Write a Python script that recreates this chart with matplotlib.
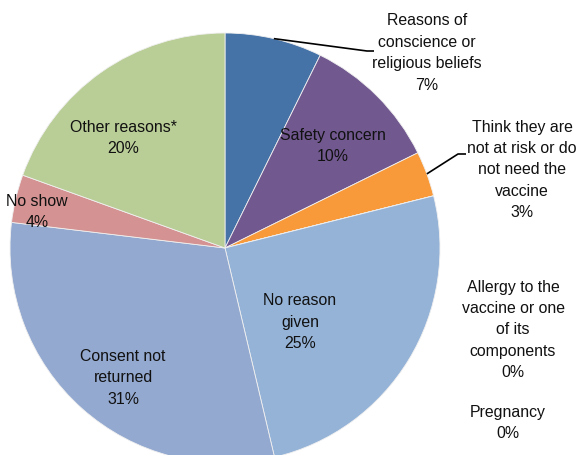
import numpy as np
import matplotlib
matplotlib.use("Agg")
import matplotlib.pyplot as plt

plt.rcParams['font.family'] = ['Liberation Sans', 'DejaVu Sans']

categories = [
    "Reasons of\nconscience or\nreligious beliefs",
    "Safety concern",
    "Think they are\nnot at risk or do\nnot need the\nvaccine",
    "Allergy to the\nvaccine or one\nof its\ncomponents",
    "Pregnancy",
    "No reason\ngiven",
    "Consent not\nreturned",
    "No show",
    "Other reasons*",
]
values = [7.3, 10.4, 3.4, 0.0, 0.0, 25.2, 30.6, 3.6, 19.5]
pct_labels = ["7%", "10%", "3%", "0%", "0%", "25%", "31%", "4%", "20%"]
colors = ["#4572A7", "#71588F", "#F89A3A", "#C0504D", "#9BBB59",
          "#95B3D7", "#93A9CF", "#D49392", "#B9CD96"]

W, H = 580, 455
CX, CY, R = 225, 248, 215

fig = plt.figure(figsize=(W / 100, H / 100), dpi=100)
ax = fig.add_axes([0, 0, 1, 1])

wedges, _ = ax.pie(values, colors=colors, startangle=90, counterclock=False,
                   radius=1.0, center=(0, 0),
                   wedgeprops=dict(edgecolor="#F0F0F0", linewidth=0.6))
ax.set_xlim(-CX / R, (W - CX) / R)
ax.set_ylim(-(H - CY) / R, CY / R)
ax.set_aspect("equal")
ax.axis("off")


def p2d(px, py):
    return ((px - CX) / R, (CY - py) / R)


def edge_point(w):
    ang = np.deg2rad((w.theta1 + w.theta2) / 2)
    return np.cos(ang), np.sin(ang)


# label positions (pixel centres)
label_pos = [
    (427, 53),
    (333, 146),
    (522, 170),
    (513, 330),
    (508, 423),
    (300, 322),
    (123, 378),
    (37, 212),
    (123, 138),
]

fs = 11.4
for cat, pct, (px, py) in zip(categories, pct_labels, label_pos):
    x, y = p2d(px, py)
    ax.text(x, y, cat + "\n" + pct, ha="center", va="center", fontsize=fs,
            linespacing=1.53, color="#111111")

# leader lines
leaders = {0: [(367, 51), (374, 51)], 2: [(458, 154), (466, 154)]}
for i, pts in leaders.items():
    ex, ey = edge_point(wedges[i])
    xs = [ex] + [p2d(*p)[0] for p in pts]
    ys = [ey] + [p2d(*p)[1] for p in pts]
    ax.plot(xs, ys, color="black", lw=1.2, solid_capstyle="butt")

fig.savefig("out.png", dpi=100)
